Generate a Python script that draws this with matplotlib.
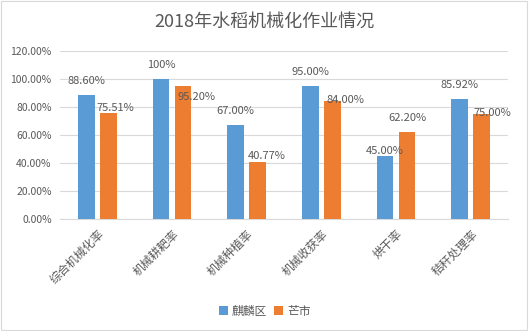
import matplotlib
matplotlib.use("Agg")
import matplotlib.pyplot as plt
import numpy as np
from matplotlib.ticker import FuncFormatter, MultipleLocator

plt.rcParams['font.family'] = ['Noto Sans CJK SC', 'DejaVu Sans']

title = "2018年水稻机械化作业情况"
categories = ["综合机械化率", "机械耕耙率", "机械种植率", "机械收获率", "烘干率", "秸秆处理率"]
series_names = ["麒麟区", "芒市"]
qilin = [88.60, 100.0, 67.00, 95.00, 45.00, 85.92]
mangshi = [75.51, 95.20, 40.77, 84.00, 62.20, 75.00]
qilin_labels = ["88.60%", "100%", "67.00%", "95.00%", "45.00%", "85.92%"]
mangshi_labels = ["75.51%", "95.20%", "40.77%", "84.00%", "62.20%", "75.00%"]

# label offsets in pixels (dx, dy of label centre relative to bar top centre)
qilin_off = [(0, 14), (0, 14), (0, 14), (0, 14), (0, 5), (0, 14)]
mangshi_off = [(7, 5), (14, -11), (9, 6), (13, 1), (0, 14), (11, 1)]

blue = "#5B9BD5"
orange = "#ED7D31"
gray = "#595959"

fig = plt.figure(figsize=(5.29, 3.31), dpi=100)
ax = fig.add_axes([60/529, 1-219/331, 448/529, 168/331])

x = np.arange(len(categories))
w = 0.227
off = 0.147
b1 = ax.bar(x - off, qilin, w, color=blue, label=series_names[0], zorder=3)
b2 = ax.bar(x + off, mangshi, w, color=orange, label=series_names[1], zorder=3)

for bars, labels, offs in ((b1, qilin_labels, qilin_off), (b2, mangshi_labels, mangshi_off)):
    for rect, lab, (dx, dy) in zip(bars, labels, offs):
        ax.annotate(lab, (rect.get_x() + rect.get_width()/2, rect.get_height()),
                    xytext=(dx*0.72, dy*0.72), textcoords="offset points",
                    ha="center", va="center", fontsize=8, color=gray, zorder=4)

ax.set_xlim(-0.5, len(categories) - 0.5)
ax.set_ylim(0, 120)
ax.yaxis.set_major_locator(MultipleLocator(20))
ax.yaxis.set_major_formatter(FuncFormatter(lambda v, p: f"{v:.2f}%"))
ax.grid(axis="y", color="#d9d9d9", linewidth=0.8, zorder=0)
for s in ["top", "right", "left"]:
    ax.spines[s].set_visible(False)
ax.spines["bottom"].set_color("#d9d9d9")
ax.tick_params(axis="both", length=0, colors=gray, labelsize=7.5)
ax.tick_params(axis="y", pad=6)
ax.set_xticks(x)
ax.set_xticklabels(categories, rotation=45, ha="right", rotation_mode="anchor", fontsize=8.5)
ax.tick_params(axis="x", pad=6)

fig.text(0.5, 1-22/331, title, ha="center", va="center", fontsize=13, color=gray)

fig.legend(handles=[b1, b2], labels=series_names, loc="center", bbox_to_anchor=(0.5, 1-311/331),
           ncol=2, frameon=False, fontsize=8.5, handlelength=0.8, handleheight=0.8,
           handletextpad=0.3, columnspacing=0.6, labelcolor=gray)

border = plt.Rectangle((0.002, 0.003), 0.995, 0.994, transform=fig.transFigure,
                       fill=False, edgecolor="#d9d9d9", linewidth=0.8)
fig.patches.append(border)

fig.savefig("out.png", dpi=100)
